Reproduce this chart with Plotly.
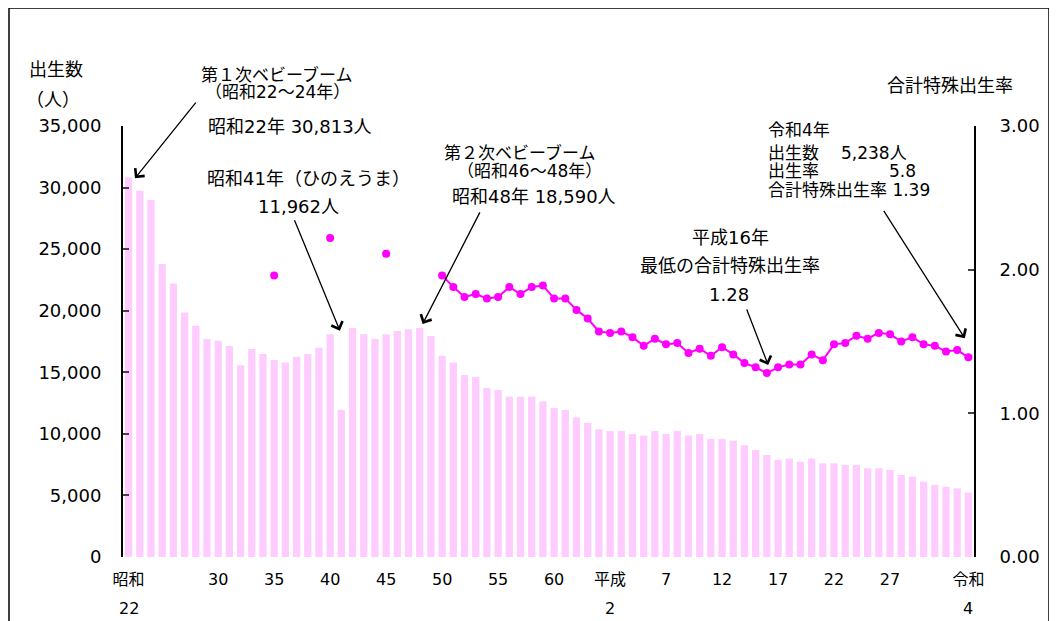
import plotly.graph_objects as go

# ---------------- data ----------------
years = list(range(1947, 2023))  # 昭和22年 … 令和4年

births = [
    30813, 29750, 29000, 23800, 22200, 19850, 18770, 17700, 17570, 17140,   # S22-S31
    15570, 16900, 16490, 16000, 15800, 16250, 16490, 17000, 18090, 11962,   # S32-S41
    18600, 18090, 17700, 18090, 18360, 18500, 18590, 17950, 16350, 15800,   # S42-S51
    14780, 14620, 13730, 13570, 13020, 13020, 13020, 12620, 12100, 11940,   # S52-S61
    11320, 10890,                                                           # S62-S63
    10370, 10240, 10240, 9990, 9860, 10240, 9990, 10240, 9860, 9990,        # H1-H10
    9590, 9590, 9450, 9070, 8690, 8290, 7880, 7990, 7740, 7990,             # H11-H20
    7610, 7610, 7470, 7470, 7200, 7200, 7070, 6660, 6520, 6120,             # H21-H30
    5850, 5710, 5580, 5238,                                                 # R1-R4
]

tfr = (
    [None] * 13 + [1.96] + [None] * 4 + [2.22] + [None] * 4 + [2.11] + [None] * 4 +
    [1.96, 1.88, 1.81, 1.83, 1.80, 1.81, 1.88, 1.83, 1.88, 1.89, 1.80, 1.80, 1.72, 1.66] +
    [1.57, 1.56, 1.57, 1.53, 1.47, 1.52, 1.48, 1.49, 1.42, 1.45,
     1.40, 1.46, 1.41, 1.35, 1.32, 1.28, 1.32, 1.34, 1.34, 1.41,
     1.37, 1.48, 1.49, 1.54, 1.52, 1.56, 1.55, 1.50, 1.53, 1.48] +
    [1.47, 1.43, 1.44, 1.39]
)

tick_years = [1947, 1955, 1960, 1965, 1970, 1975, 1980, 1985, 1990, 1995, 2000, 2005, 2010, 2015, 2022]
tick_text = ["昭和", "30", "35", "40", "45", "50", "55", "60", "平成", "7", "12", "17", "22", "27", "令和"]
second_row_years = [1947, 1990, 2022]
second_row_text = ["22", "2", "4"]

# ---------------- layout helpers ----------------
OFF = 8                      # page body margin of the html page
W, H = 1057 - OFF, 621 - OFF
PL, PR, PT, PB = 123 - OFF, 974 - OFF, 126 - OFF, 557 - OFF
FONT = "DejaVu Sans, Noto Sans CJK JP, sans-serif"


def px(x):
    return (x - OFF - PL) / (PR - PL)


def py(y):
    return (PB - (y - OFF)) / (PB - PT)


fig = go.Figure()
fig.add_trace(go.Bar(
    x=years, y=births, marker=dict(color="#FFCCFF", line=dict(width=0)),
    yaxis="y", hoverinfo="x+y",
))
fig.add_trace(go.Scatter(
    x=years, y=tfr, yaxis="y2", mode="lines+markers", connectgaps=False,
    line=dict(color="#FF00FF", width=2), marker=dict(color="#FF00FF", size=8),
))

annotations = []


def text(t, x, y, xanchor="center", size=18):
    annotations.append(dict(
        text=t, x=px(x), y=py(y), xref="paper", yref="paper",
        xanchor=xanchor, yanchor="middle", showarrow=False,
        font=dict(family=FONT, size=size, color="#000000"),
    ))


text("出生数", 56, 69.5)
text("（人）", 53, 100)
text("合計特殊出生率", 950, 85.5)

text("第１次ベビーブーム", 276, 75, size=17)
text("（昭和22～24年）", 277, 92.5, size=17)
text("昭和22年 30,813人", 290, 127)

text("昭和41年（ひのえうま）", 308, 178)
text("11,962人", 298, 206)

text("第２次ベビーブーム", 519, 152.5, size=17)
text("（昭和46～48年）", 529, 171, size=17)
text("昭和48年 18,590人", 534, 196)

text("平成16年", 730, 237.5)
text("最低の合計特殊出生率", 730, 265.5)
text("1.28", 729, 294)

text("令和4年", 766, 130, xanchor="left", size=17)
text("出生数", 766, 153.5, xanchor="left", size=17)
text("5,238人", 839, 153.5, xanchor="left", size=17)
text("出生率", 766, 171, xanchor="left", size=17)
text("5.8", 887, 171, xanchor="left", size=17)
text("合計特殊出生率 1.39", 766, 189.5, xanchor="left", size=17)

for yr, t in zip(second_row_years, second_row_text):
    annotations.append(dict(
        text=t, x=yr, y=py(608.5), xref="x", yref="paper",
        xanchor="center", yanchor="middle", showarrow=False,
        font=dict(family=FONT, size=16, color="#000000"),
    ))


def arrow(x, y, yref, ax, ay):
    annotations.append(dict(
        x=x, y=y, xref="x", yref=yref, ax=ax, ay=ay, text="",
        showarrow=True, arrowhead=4, arrowsize=1.8, arrowwidth=1.3,
        arrowcolor="#000000",
    ))


arrow(1947.57, 30760, "y", 62, -77)
arrow(1965.87, 18383, "y", -46, -112)
arrow(1973.26, 18928, "y", 58, -113)
arrow(2004.12, 1.336, "y2", -22, -57)
arrow(2021.68, 1.522, "y2", -82, -129)

fig.update_layout(
    width=W, height=H,
    margin=dict(l=PL, r=W - PR, t=PT, b=H - PB),
    paper_bgcolor="white", plot_bgcolor="white",
    showlegend=False, bargap=0.35,
    font=dict(family=FONT, size=18, color="#000000"),
    xaxis=dict(
        range=[1946.5, 2022.5], tickmode="array", tickvals=tick_years, ticktext=tick_text,
        ticks="", showline=False, showgrid=False, zeroline=False,
        tickfont=dict(family=FONT, size=16), ticklabelstandoff=11,
    ),
    yaxis=dict(
        range=[0, 35000], dtick=5000, tickformat=",", ticks="inside", ticklen=6,
        tickwidth=2, showline=True, linewidth=2, linecolor="#000000",
        showgrid=False, zeroline=False, tickfont=dict(family=FONT, size=18),
        ticklabelstandoff=16,
    ),
    yaxis2=dict(
        range=[0, 3], dtick=1, tickformat=".2f", overlaying="y", side="right",
        ticks="inside", ticklen=6, tickwidth=2, showline=True, linewidth=2,
        linecolor="#000000", showgrid=False, zeroline=False,
        tickfont=dict(family=FONT, size=18), ticklabelstandoff=20,
    ),
    annotations=annotations,
    shapes=[dict(
        type="rect", xref="paper", yref="paper",
        x0=px(9), x1=px(1049), y0=py(640), y1=py(8),
        line=dict(color="#000000", width=1.5), fillcolor="rgba(0,0,0,0)", layer="above",
    )],
)

fig.write_html("out.html")
